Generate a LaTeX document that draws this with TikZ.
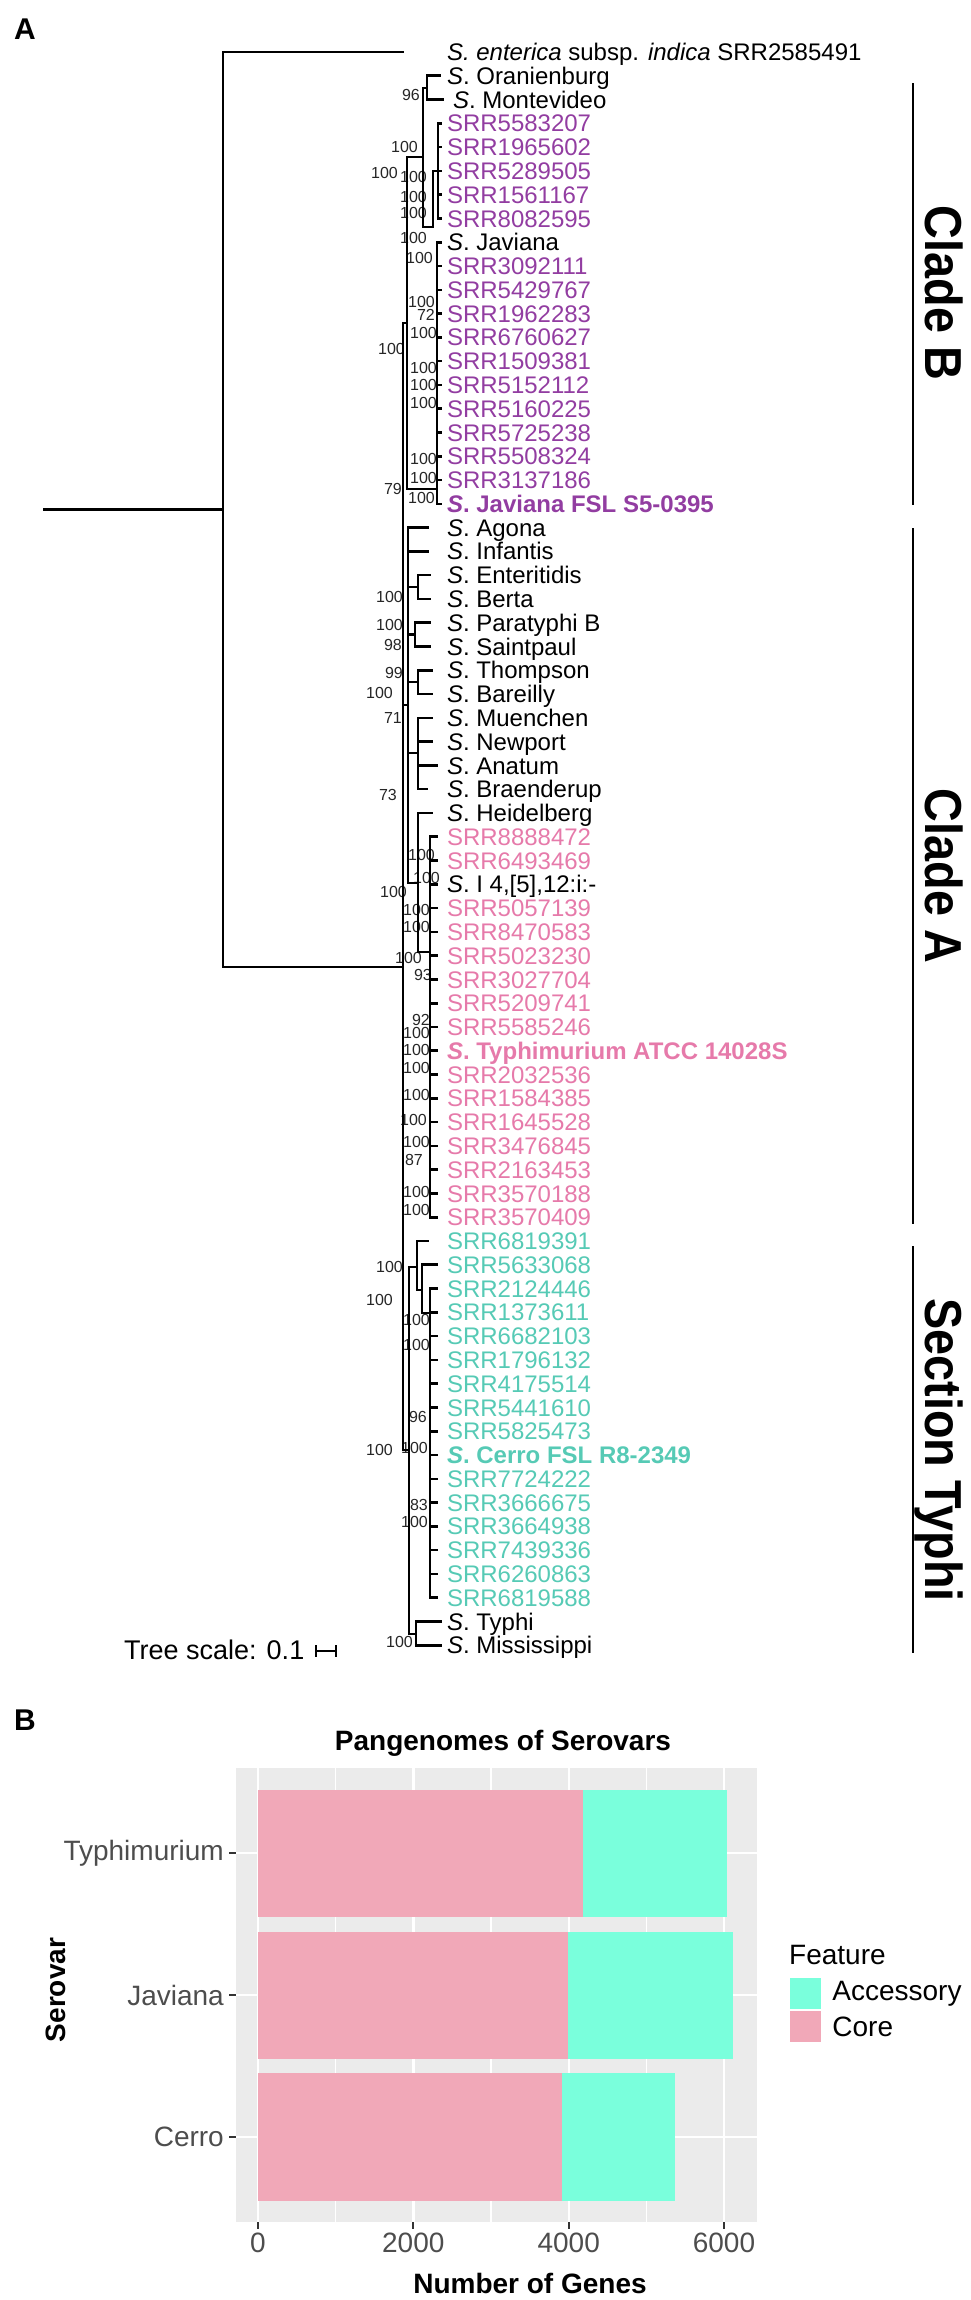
\documentclass[tikz,border=0pt]{standalone}
\usepackage{fontspec}
\setmainfont{Liberation Sans}
\usetikzlibrary{positioning}
\definecolor{javpurple}{RGB}{146,61,161}
\definecolor{typpink}{RGB}{230,122,170}
\definecolor{certeal}{RGB}{86,202,181}
\definecolor{panelgray}{RGB}{235,235,235}
\definecolor{corepink}{RGB}{241,168,184}
\definecolor{accaqua}{RGB}{122,255,220}
\definecolor{axisgray}{RGB}{77,77,77}

\begin{document}
\begin{tikzpicture}[x=1pt,y=-1pt]
\tikzstyle{leaf}=[inner xsep=0pt, inner ysep=0.89pt, outer sep=0pt, text height=19.6pt, text depth=2.4pt, font=\fontsize{24}{28}\selectfont]
\tikzstyle{bl}=[leaf, text=black]
\tikzstyle{jv}=[leaf, text=javpurple]
\tikzstyle{tm}=[leaf, text=typpink]
\tikzstyle{ce}=[leaf, text=certeal]
\tikzstyle{boot}=[anchor=east, inner sep=0pt, font=\fontsize{16}{18}\selectfont, text=black!85]
\tikzstyle{branch}=[line width=2.6pt, line cap=rect]
\tikzstyle{cladebar}=[line width=2.8pt]
\tikzstyle{cladelab}=[rotate=-90, anchor=base, inner sep=0pt, font=\fontsize{52}{56}\selectfont\bfseries]
\tikzstyle{axlab}=[inner sep=0pt, text=axisgray, font=\fontsize{28}{32}\selectfont]
\tikzstyle{axtitle}=[inner sep=0pt, font=\fontsize{28}{32}\selectfont\bfseries]
\tikzstyle{grid}=[white, line width=2.4pt]
\tikzstyle{minorgrid}=[white, line width=1.2pt]
\tikzstyle{tick}=[black!80, line width=2pt]

\useasboundingbox (0,0) rectangle (971,2300);

\node[inner sep=0pt, font=\fontsize{30}{32}\selectfont\bfseries] (panela) at (25,29) {A};

% leaves of the tree
\node[bl, anchor=west] (l1) at (447,52) {\textit{S. enterica} subsp. \textit{indica} SRR2585491};
\node[bl, below right=0pt of l1.south west] (l2) {\textit{S}. Oranienburg};
\node[bl, below right=0pt of l2.south west, xshift=6pt] (l3) {\textit{S}. Montevideo};
\node[jv, below right=0pt of l3.south west, xshift=-6pt] (l4) {SRR5583207};
\node[jv, below right=0pt of l4.south west] (l5) {SRR1965602};
\node[jv, below right=0pt of l5.south west] (l6) {SRR5289505};
\node[jv, below right=0pt of l6.south west] (l7) {SRR1561167};
\node[jv, below right=0pt of l7.south west] (l8) {SRR8082595};
\node[bl, below right=0pt of l8.south west] (l9) {\textit{S}. Javiana};
\node[jv, below right=0pt of l9.south west] (l10) {SRR3092111};
\node[jv, below right=0pt of l10.south west] (l11) {SRR5429767};
\node[jv, below right=0pt of l11.south west] (l12) {SRR1962283};
\node[jv, below right=0pt of l12.south west] (l13) {SRR6760627};
\node[jv, below right=0pt of l13.south west] (l14) {SRR1509381};
\node[jv, below right=0pt of l14.south west] (l15) {SRR5152112};
\node[jv, below right=0pt of l15.south west] (l16) {SRR5160225};
\node[jv, below right=0pt of l16.south west] (l17) {SRR5725238};
\node[jv, below right=0pt of l17.south west] (l18) {SRR5508324};
\node[jv, below right=0pt of l18.south west] (l19) {SRR3137186};
\node[jv, below right=0pt of l19.south west] (l20) {\textbf{\textit{S}. Javiana FSL S5-0395}};
\node[bl, below right=0pt of l20.south west] (l21) {\textit{S}. Agona};
\node[bl, below right=0pt of l21.south west] (l22) {\textit{S}. Infantis};
\node[bl, below right=0pt of l22.south west] (l23) {\textit{S}. Enteritidis};
\node[bl, below right=0pt of l23.south west] (l24) {\textit{S}. Berta};
\node[bl, below right=0pt of l24.south west] (l25) {\textit{S}. Paratyphi B};
\node[bl, below right=0pt of l25.south west] (l26) {\textit{S}. Saintpaul};
\node[bl, below right=0pt of l26.south west] (l27) {\textit{S}. Thompson};
\node[bl, below right=0pt of l27.south west] (l28) {\textit{S}. Bareilly};
\node[bl, below right=0pt of l28.south west] (l29) {\textit{S}. Muenchen};
\node[bl, below right=0pt of l29.south west] (l30) {\textit{S}. Newport};
\node[bl, below right=0pt of l30.south west] (l31) {\textit{S}. Anatum};
\node[bl, below right=0pt of l31.south west] (l32) {\textit{S}. Braenderup};
\node[bl, below right=0pt of l32.south west] (l33) {\textit{S}. Heidelberg};
\node[tm, below right=0pt of l33.south west] (l34) {SRR8888472};
\node[tm, below right=0pt of l34.south west] (l35) {SRR6493469};
\node[bl, below right=0pt of l35.south west] (l36) {\textit{S}. I 4,[5],12:i:-};
\node[tm, below right=0pt of l36.south west] (l37) {SRR5057139};
\node[tm, below right=0pt of l37.south west] (l38) {SRR8470583};
\node[tm, below right=0pt of l38.south west] (l39) {SRR5023230};
\node[tm, below right=0pt of l39.south west] (l40) {SRR3027704};
\node[tm, below right=0pt of l40.south west] (l41) {SRR5209741};
\node[tm, below right=0pt of l41.south west] (l42) {SRR5585246};
\node[tm, below right=0pt of l42.south west] (l43) {\textbf{\textit{S}. Typhimurium ATCC 14028S}};
\node[tm, below right=0pt of l43.south west] (l44) {SRR2032536};
\node[tm, below right=0pt of l44.south west] (l45) {SRR1584385};
\node[tm, below right=0pt of l45.south west] (l46) {SRR1645528};
\node[tm, below right=0pt of l46.south west] (l47) {SRR3476845};
\node[tm, below right=0pt of l47.south west] (l48) {SRR2163453};
\node[tm, below right=0pt of l48.south west] (l49) {SRR3570188};
\node[tm, below right=0pt of l49.south west] (l50) {SRR3570409};
\node[ce, below right=0pt of l50.south west] (l51) {SRR6819391};
\node[ce, below right=0pt of l51.south west] (l52) {SRR5633068};
\node[ce, below right=0pt of l52.south west] (l53) {SRR2124446};
\node[ce, below right=0pt of l53.south west] (l54) {SRR1373611};
\node[ce, below right=0pt of l54.south west] (l55) {SRR6682103};
\node[ce, below right=0pt of l55.south west] (l56) {SRR1796132};
\node[ce, below right=0pt of l56.south west] (l57) {SRR4175514};
\node[ce, below right=0pt of l57.south west] (l58) {SRR5441610};
\node[ce, below right=0pt of l58.south west] (l59) {SRR5825473};
\node[ce, below right=0pt of l59.south west] (l60) {\textbf{\textit{S}. Cerro FSL R8-2349}};
\node[ce, below right=0pt of l60.south west] (l61) {SRR7724222};
\node[ce, below right=0pt of l61.south west] (l62) {SRR3666675};
\node[ce, below right=0pt of l62.south west] (l63) {SRR3664938};
\node[ce, below right=0pt of l63.south west] (l64) {SRR7439336};
\node[ce, below right=0pt of l64.south west] (l65) {SRR6260863};
\node[ce, below right=0pt of l65.south west] (l66) {SRR6819588};
\node[bl, below right=0pt of l66.south west] (l67) {\textit{S}. Typhi};
\node[bl, below right=0pt of l67.south west] (l68) {\textit{S}. Mississippi};

% bootstrap values
\node[boot] (b1) at (420,95) {96};
\node[boot] (b2) at (418,147) {100};
\node[boot] (b3) at (398,173) {100};
\node[boot] (b4) at (427,177) {100};
\node[boot] (b5) at (427,197) {100};
\node[boot] (b6) at (427,213) {100};
\node[boot] (b7) at (427,238) {100};
\node[boot] (b8) at (433,258) {100};
\node[boot] (b9) at (435,302) {100};
\node[boot] (b10) at (435,315) {72};
\node[boot] (b11) at (437,333) {100};
\node[boot] (b12) at (405,349) {100};
\node[boot] (b13) at (437,368) {100};
\node[boot] (b14) at (437,385) {100};
\node[boot] (b15) at (437,403) {100};
\node[boot] (b16) at (437,459) {100};
\node[boot] (b17) at (437,478) {100};
\node[boot] (b18) at (402,489) {79};
\node[boot] (b19) at (435,498) {100};
\node[boot] (b20) at (403,597) {100};
\node[boot] (b21) at (403,625) {100};
\node[boot] (b22) at (402,645) {98};
\node[boot] (b23) at (403,673) {99};
\node[boot] (b24) at (393,693) {100};
\node[boot] (b25) at (402,718) {71};
\node[boot] (b26) at (397,795) {73};
\node[boot] (b27) at (435,855) {100};
\node[boot] (b28) at (440,878) {100};
\node[boot] (b29) at (407,892) {100};
\node[boot] (b30) at (430,910) {100};
\node[boot] (b31) at (430,927) {100};
\node[boot] (b32) at (422,958) {100};
\node[boot] (b33) at (432,975) {93};
\node[boot] (b34) at (430,1020) {92};
\node[boot] (b35) at (430,1033) {100};
\node[boot] (b36) at (430,1050) {100};
\node[boot] (b37) at (430,1068) {100};
\node[boot] (b38) at (430,1095) {100};
\node[boot] (b39) at (427,1120) {100};
\node[boot] (b40) at (430,1142) {100};
\node[boot] (b41) at (423,1160) {87};
\node[boot] (b42) at (430,1192) {100};
\node[boot] (b43) at (430,1210) {100};
\node[boot] (b44) at (403,1267) {100};
\node[boot] (b45) at (393,1300) {100};
\node[boot] (b46) at (430,1320) {100};
\node[boot] (b47) at (430,1345) {100};
\node[boot] (b48) at (427,1417) {96};
\node[boot] (b49) at (428,1448) {100};
\node[boot] (b50) at (393,1450) {100};
\node[boot] (b51) at (428,1505) {83};
\node[boot] (b52) at (428,1522) {100};
\node[boot] (b53) at (413,1642) {100};

% inner nodes of the tree
\coordinate (root) at (44,509.5);
\coordinate (n0) at (223,509.5);
\coordinate (nm) at (403,967);
\coordinate (nb) at (407,323);
\coordinate (nq) at (423,157);
\coordinate (nom) at (427,88);
\coordinate (ns) at (433,227);
\coordinate (ns2) at (438,171);
\coordinate (nj) at (437,489);
\coordinate (nca) at (408,705);
\coordinate (neb) at (418,587);
\coordinate (nps) at (415,634.6);
\coordinate (ntb) at (418,682);
\coordinate (nmn) at (418,753);
\coordinate (nh) at (418,883);
\coordinate (nty) at (430,952);
\coordinate (nn2) at (409,1450);
\coordinate (nct) at (417,1267);
\coordinate (nc2) at (422,1290);
\coordinate (nc3) at (430,1313);
\coordinate (ntm) at (416,1634);

\draw[branch] (root) -- (n0);
\draw[branch] (n0) |- ([xshift=-44pt]l1.west) (n0) |- (nm);
\draw[branch] (nm) |- (nb) (nm) |- (nca) (nm) |- (nn2);
\draw[branch] (nb) |- (nq) (nb) |- (nj);
\draw[branch] (nq) |- (nom) (nq) |- (ns) (ns) |- (ns2);
\draw[branch] (nom) |- ([xshift=-7pt]l2.west) (nom) |- ([xshift=-10pt]l3.west);
\draw[branch] (ns2) |- ([xshift=-6pt]l4.west) (ns2) |- ([xshift=-6pt]l5.west)
  (ns2) |- ([xshift=-6pt]l6.west) (ns2) |- ([xshift=-6pt]l7.west) (ns2) |- ([xshift=-6pt]l8.west);
\draw[branch] (nj) |- ([xshift=-6pt]l9.west) (nj) |- ([xshift=-6pt]l10.west)
  (nj) |- ([xshift=-6pt]l11.west) (nj) |- ([xshift=-6pt]l12.west)
  (nj) |- ([xshift=-6pt]l13.west) (nj) |- ([xshift=-6pt]l14.west)
  (nj) |- ([xshift=-6pt]l15.west) (nj) |- ([xshift=-6pt]l16.west)
  (nj) |- ([xshift=-6pt]l17.west) (nj) |- ([xshift=-6pt]l18.west)
  (nj) |- ([xshift=-6pt]l19.west) (nj) |- ([xshift=-6pt]l20.west);
\draw[branch] (nca) |- ([xshift=-19pt]l21.west) (nca) |- ([xshift=-19pt]l22.west)
  (nca) |- (neb) (nca) |- (nps) (nca) |- (ntb) (nca) |- (nmn) (nca) |- (nh);
\draw[branch] (neb) |- ([xshift=-17pt]l23.west) (neb) |- ([xshift=-17pt]l24.west);
\draw[branch] (nps) |- ([xshift=-17pt]l25.west) (nps) |- ([xshift=-17pt]l26.west);
\draw[branch] (ntb) |- ([xshift=-15pt]l27.west) (ntb) |- ([xshift=-15pt]l28.west);
\draw[branch] (nmn) |- ([xshift=-15pt]l29.west) (nmn) |- ([xshift=-15pt]l30.west)
  (nmn) |- ([xshift=-10pt]l31.west) (nmn) |- ([xshift=-20pt]l32.west);
\draw[branch] (nh) |- ([xshift=-15pt]l33.west) (nh) |- (nty);
\draw[branch] (nty) |- ([xshift=-10pt]l34.west) (nty) |- ([xshift=-10pt]l35.west)
  (nty) |- ([xshift=-10pt]l36.west) (nty) |- ([xshift=-10pt]l37.west)
  (nty) |- ([xshift=-10pt]l38.west) (nty) |- ([xshift=-10pt]l39.west)
  (nty) |- ([xshift=-10pt]l40.west) (nty) |- ([xshift=-10pt]l41.west)
  (nty) |- ([xshift=-10pt]l42.west) (nty) |- ([xshift=-10pt]l43.west)
  (nty) |- ([xshift=-10pt]l44.west) (nty) |- ([xshift=-10pt]l45.west)
  (nty) |- ([xshift=-10pt]l46.west) (nty) |- ([xshift=-10pt]l47.west)
  (nty) |- ([xshift=-10pt]l48.west) (nty) |- ([xshift=-10pt]l49.west)
  (nty) |- ([xshift=-10pt]l50.west);
\draw[branch] (nn2) |- (nct) (nn2) |- (ntm);
\draw[branch] (nct) |- ([xshift=-19pt]l51.west) (nct) |- (nc2);
\draw[branch] (nc2) |- ([xshift=-10pt]l52.west) (nc2) |- (nc3);
\draw[branch] (nc3) |- ([xshift=-10pt]l53.west) (nc3) |- ([xshift=-10pt]l54.west)
  (nc3) |- ([xshift=-10pt]l55.west) (nc3) |- ([xshift=-10pt]l56.west)
  (nc3) |- ([xshift=-10pt]l57.west) (nc3) |- ([xshift=-10pt]l58.west)
  (nc3) |- ([xshift=-10pt]l59.west) (nc3) |- ([xshift=-10pt]l60.west)
  (nc3) |- ([xshift=-10pt]l61.west) (nc3) |- ([xshift=-10pt]l62.west)
  (nc3) |- ([xshift=-10pt]l63.west) (nc3) |- ([xshift=-10pt]l64.west)
  (nc3) |- ([xshift=-10pt]l65.west) (nc3) |- ([xshift=-10pt]l66.west);
\draw[branch] (ntm) |- ([xshift=-6pt]l67.west) (ntm) |- ([xshift=-6pt]l68.west);

% clades
\draw[cladebar] (913,83) -- (913,505);
\draw[cladebar] (913,528) -- (913,1224);
\draw[cladebar] (913,1246) -- (913,1653);
\node[cladelab] (cladeb) at (925,293) {\scalebox{0.9}[1]{Clade B}};
\node[cladelab] (cladea) at (925,876) {\scalebox{0.9}[1]{Clade A}};
\node[cladelab] (secty) at (925,1450) {\scalebox{0.9}[1]{Section Typhi}};

\node[anchor=west, inner sep=0pt, font=\fontsize{27}{30}\selectfont] (treescale) at (124,1650) {Tree scale: 0.1};
\draw[line width=2.4pt] (316,1645) -- (316,1657) (316,1651) -- (336,1651) (336,1645) -- (336,1657);

% panel B
\node[inner sep=0pt, font=\fontsize{30}{32}\selectfont\bfseries] (panelb) at (25,1720) {B};
\node[axtitle] (title) at (503,1743) {Pangenomes of Serovars};

\fill[panelgray] (236,1768) rectangle (757,2222);
\draw[minorgrid] (335.7,1768) -- (335.7,2222) (491,1768) -- (491,2222) (646.4,1768) -- (646.4,2222);
\draw[grid] (258,1768) -- (258,2222) (413.3,1768) -- (413.3,2222) (568.7,1768) -- (568.7,2222) (724,1768) -- (724,2222);
\draw[grid] (236,1853) -- (757,1853) (236,1995) -- (757,1995) (236,2137) -- (757,2137);

\fill[corepink] (258,1790) rectangle (583,1917);
\fill[accaqua] (583,1790) rectangle (727,1917);
\fill[corepink] (258,1932) rectangle (568,2059);
\fill[accaqua] (568,1932) rectangle (733,2059);
\fill[corepink] (258,2073) rectangle (562,2201);
\fill[accaqua] (562,2073) rectangle (675,2201);

\draw[tick] (229,1853) -- (236,1853) (229,1995) -- (236,1995) (229,2137) -- (236,2137);
\draw[tick] (258,2222) -- (258,2229) (413.3,2222) -- (413.3,2229) (568.7,2222) -- (568.7,2229) (724,2222) -- (724,2229);

\node[axlab, anchor=east] (ytyph) at (224,1853) {Typhimurium};
\node[axlab, anchor=east] (yjav) at (224,1995) {Javiana};
\node[axlab, anchor=east] (ycer) at (224,2137) {Cerro};
\node[axlab] (x0) at (258,2243) {0};
\node[axlab] (x2000) at (413.3,2243) {2000};
\node[axlab] (x4000) at (568.7,2243) {4000};
\node[axlab] (x6000) at (724,2243) {6000};
\node[axtitle] (xtitle) at (530,2283) {Number of Genes};
\node[axtitle, rotate=90] (ytitle) at (56,1990) {Serovar};

\node[anchor=west, inner sep=0pt, font=\fontsize{28}{32}\selectfont] (legtitle) at (789,1955) {Feature};
\node[fill=accaqua, minimum size=31pt, inner sep=0pt] (keyacc) at (805.5,1993.5) {};
\node[fill=corepink, minimum size=31pt, inner sep=0pt, below=2pt of keyacc] (keycore) {};
\node[inner sep=0pt, font=\fontsize{28}{32}\selectfont, right=11pt of keyacc] (legacc) {Accessory};
\node[inner sep=0pt, font=\fontsize{28}{32}\selectfont, right=11pt of keycore] (legcore) {Core};
\end{tikzpicture}
\end{document}
